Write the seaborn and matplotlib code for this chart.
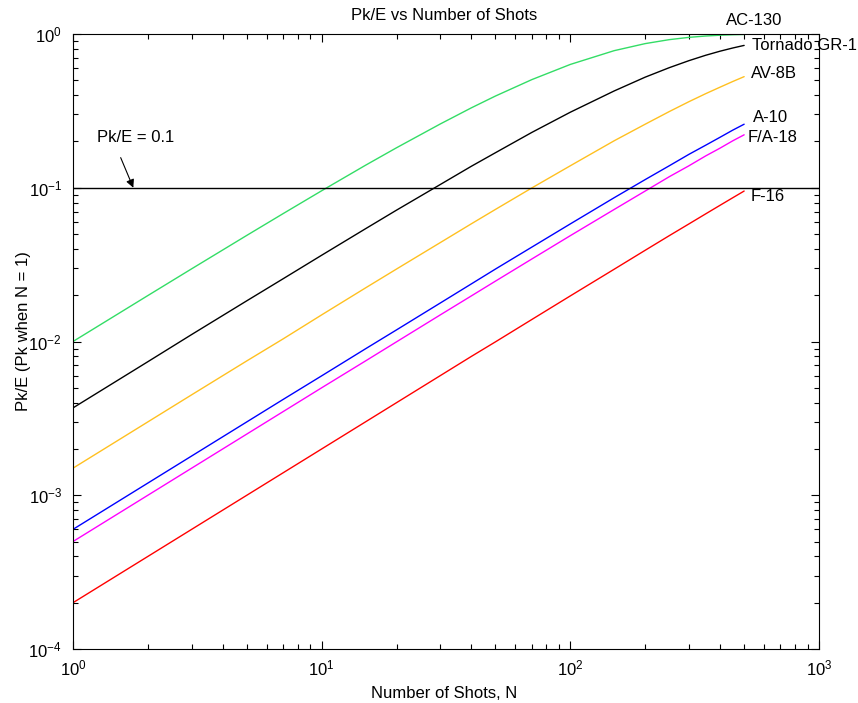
import matplotlib
matplotlib.use("Agg")
import matplotlib.pyplot as plt
import seaborn as sns
import pandas as pd

# Data
shots = [1, 2, 3, 5, 7, 10, 15, 20, 30, 40, 50, 70, 100, 150, 200, 250, 300,
         350, 400, 450, 500]
ac130 = [0.01, 0.0199, 0.0297, 0.049, 0.0679, 0.0956, 0.140, 0.182, 0.260, 0.331,
         0.395, 0.505, 0.634, 0.779, 0.866, 0.919, 0.951, 0.970, 0.982, 0.989, 0.993]
tornado = [0.0037, 0.00739, 0.0111, 0.0184, 0.0256, 0.0364, 0.0541, 0.0715, 0.105,
           0.138, 0.169, 0.229, 0.310, 0.426, 0.524, 0.604, 0.671, 0.727, 0.773,
           0.811, 0.843]
av8b = [0.0015, 0.0030, 0.0045, 0.00748, 0.0104, 0.0149, 0.0223, 0.0296, 0.0440,
        0.0583, 0.0723, 0.0997, 0.139, 0.202, 0.259, 0.313, 0.363, 0.409, 0.451,
        0.491, 0.528]
a10 = [0.0006, 0.0012, 0.0018, 0.0030, 0.0042, 0.00598, 0.00896, 0.0119, 0.0178,
       0.0237, 0.0296, 0.0411, 0.0582, 0.0861, 0.113, 0.139, 0.165, 0.189, 0.213,
       0.237, 0.259]
fa18 = [0.0005, 0.0010, 0.0015, 0.0025, 0.0035, 0.0050, 0.00747, 0.00995, 0.0149,
        0.0198, 0.0247, 0.0344, 0.0488, 0.0722, 0.0952, 0.118, 0.139, 0.161, 0.181,
        0.202, 0.221]
f16 = [0.0002, 0.0004, 0.0006, 0.0010, 0.0014, 0.0020, 0.0030, 0.0040, 0.0060,
       0.0080, 0.00995, 0.0139, 0.0198, 0.0295, 0.0392, 0.0488, 0.0582, 0.0676,
       0.0769, 0.0861, 0.0952]

aircraft = ["AC-130", "Tornado GR-1", "AV-8B", "A-10", "F/A-18", "F-16"]
series = [ac130, tornado, av8b, a10, fa18, f16]
colors = ["#33DD66", "#000000", "#FFC020", "#0000FF", "#FF00FF", "#FF0000"]
threshold = 0.1

rows = []
for name, vals in zip(aircraft, series):
    for n, v in zip(shots, vals):
        rows.append({"N": n, "Pk": v, "Aircraft": name})
df = pd.DataFrame(rows)

sns.set_theme(style="ticks")
plt.rcParams["font.family"] = ["Liberation Sans", "DejaVu Sans"]
plt.rcParams["font.size"] = 12
plt.rcParams["axes.unicode_minus"] = False
plt.rcParams["mathtext.fontset"] = "custom"
plt.rcParams["mathtext.rm"] = "Liberation Sans"
plt.rcParams["mathtext.it"] = "Liberation Sans:italic"
plt.rcParams["mathtext.bf"] = "Liberation Sans:bold"
plt.rcParams["text.color"] = "black"
plt.rcParams["axes.labelcolor"] = "black"
plt.rcParams["xtick.color"] = "black"
plt.rcParams["ytick.color"] = "black"

FS = 12

fig = plt.figure(figsize=(8.58, 7.03), dpi=100)
ax = fig.add_axes([73 / 858, 1 - 649 / 703, (819 - 73) / 858, (649 - 34) / 703])

sns.lineplot(data=df, x="N", y="Pk", hue="Aircraft", hue_order=aircraft,
             palette=colors, linewidth=1.0, legend=False, ax=ax)

ax.axhline(threshold, color="black", linewidth=1.0)

ax.set_xscale("log")
ax.set_yscale("log")
ax.set_xlim(1, 1000)
ax.set_ylim(1e-4, 1)

fig.text(444.6 / 858, 1 - 15 / 703, "Pk/E vs Number of Shots", fontsize=FS,
         ha="center", va="center", color="black")
ax.set_xlabel("Number of Shots, N", fontsize=FS, ha="center", va="center",
              color="black")
ax.xaxis.set_label_coords(0.497, -0.073)
ax.set_ylabel("Pk/E (Pk when N = 1)", fontsize=FS, ha="center", va="center",
              color="black")
ax.yaxis.set_label_coords(-0.067, 0.517)

ax.tick_params(which="both", direction="in", top=True, right=True, labelsize=FS,
               width=0.8, colors="black", labelcolor="black")
ax.tick_params(which="major", length=5.5)
ax.tick_params(axis="x", which="major", pad=7)
ax.tick_params(axis="y", which="major", pad=8)
ax.tick_params(which="minor", length=3.5)
for s in ax.spines.values():
    s.set_linewidth(0.8)
    s.set_color("black")

# line labels
label_pos = {
    "AC-130": (421, 1.23),
    "Tornado GR-1": (537, 0.848),
    "AV-8B": (531, 0.55),
    "A-10": (545, 0.288),
    "F/A-18": (518, 0.211),
    "F-16": (532, 0.0883),
}
for name in aircraft:
    x, y = label_pos[name]
    ax.text(x, y, name, fontsize=FS, ha="left", va="center", clip_on=False,
            color="black")

ax.text(1.245, 0.211, "Pk/E = 0.1", fontsize=FS, ha="left", va="center",
        color="black")
ax.annotate("", xy=(1.748, threshold), xytext=(1.555, 0.157),
            arrowprops=dict(arrowstyle="-|>", color="black", lw=0.8,
                            shrinkA=0, shrinkB=0, mutation_scale=12))

fig.savefig("out.png", dpi=100)
